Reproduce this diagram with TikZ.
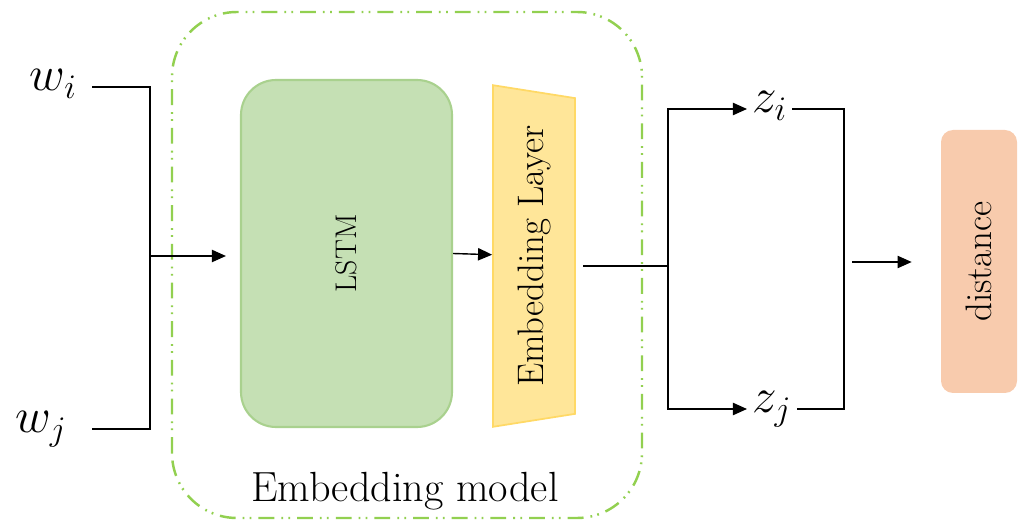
\RequirePackage{fix-cm}
\documentclass[tikz,border=0pt]{standalone}
\usetikzlibrary{arrows.meta,positioning,calc,shapes.geometric}

\definecolor{lstmfill}{HTML}{C5E0B4}
\definecolor{lstmline}{HTML}{A9D18E}
\definecolor{embfill}{HTML}{FFE699}
\definecolor{embline}{HTML}{FFD966}
\definecolor{distfill}{HTML}{F8CBAD}
\definecolor{modelgreen}{HTML}{92D050}

\begin{document}
\begin{tikzpicture}[>={Triangle[length=8pt,width=7pt]},
    var/.style={inner ysep=0pt, inner xsep=0.3cm, font=\fontsize{28}{32}\selectfont},
    bus/.style={line width=1.1pt},
    thinbus/.style={line width=0.7pt}]
  \useasboundingbox (0,0) rectangle (20.54,10.5);
  % embedding model frame
  \draw[modelgreen, line width=1.4pt, rounded corners=1.3cm,
        dash pattern=on 9pt off 4pt on 1pt off 3pt on 1pt off 4pt]
        (3.44,0.14) rectangle (12.84,10.26);
  \node[font=\fontsize{24}{28}\selectfont, anchor=base] (modellabel) at (8.1,0.46) {Embedding model};
  % inputs
  \node[var, anchor=mid east] (wi) at (1.84,8.76) {$w_i$};
  \node[var, anchor=mid east, inner xsep=0.5cm] (wj) at (1.84,1.92) {$w_j$};
  \coordinate (joinL) at (3.0,5.38);
  \draw[bus] (wi.mid east) -| (joinL) |- (wj.mid east);
  % LSTM and embedding layer
  \node[rounded corners=0.7cm, fill=lstmfill, draw=lstmline, line width=1.2pt,
        minimum width=4.22cm, minimum height=6.94cm, font=\fontsize{17}{20}\selectfont]
        (lstm) at (6.93,5.43) {\rotatebox{90}{LSTM}};
  \draw[thinbus,->, shorten >=0.28cm] (joinL) -- (joinL -| lstm.west);
  \node[trapezium, trapezium angle=104, trapezium stretches=true, rotate=90,
        minimum width=6.84cm, minimum height=1.64cm, fill=embfill, draw=embline,
        line width=1pt, font=\fontsize{21}{24}\selectfont]
        (emb) at (10.68,5.38) {Embedding Layer};
  \draw[line width=0.8pt,->] (lstm.east) -- (emb);
  % outputs
  \coordinate (embout) at (11.66,5.18);
  \coordinate (split) at (13.36,5.18);
  \draw[bus] (embout) -- (split);
  \node[var, anchor=mid west, inner xsep=0.1cm] (zi) at (14.94,8.32) {$z_i$};
  \node[var, anchor=mid west, inner xsep=0.1cm] (zj) at (14.94,2.32) {$z_j$};
  \draw[thinbus,->] (split) |- (zi.mid west);
  \draw[thinbus,->] (split) |- (zj.mid west);
  \coordinate (joinR) at (16.88,5.26);
  \draw[thinbus] (zi.mid east) -| (joinR) |- (zj.mid east);
  % distance
  \node[rounded corners=0.24cm, fill=distfill, minimum width=1.52cm, minimum height=5.26cm,
        font=\fontsize{21}{24}\selectfont] (dist) at (19.58,5.27) {\rotatebox{90}{distance}};
  \draw[thinbus,->, shorten >=0.58cm] ([xshift=0.16cm]joinR) -- (joinR -| dist.west);
\end{tikzpicture}
\end{document}
